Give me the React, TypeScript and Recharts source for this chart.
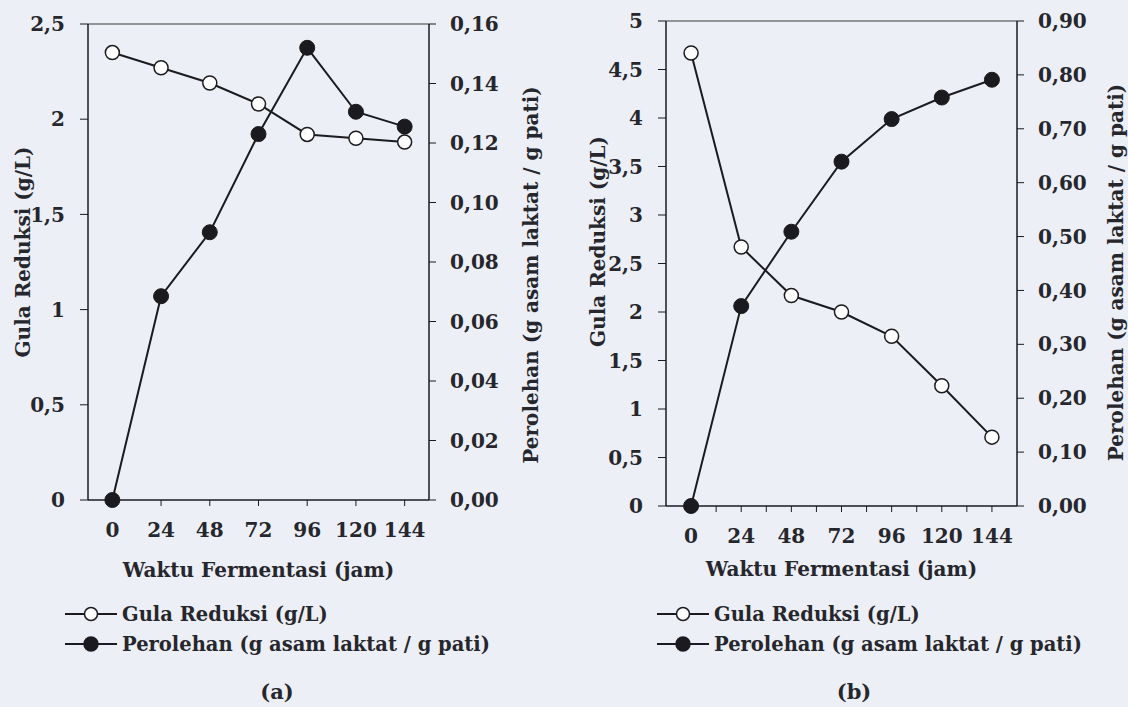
import { LineChart, Line, XAxis, YAxis, ReferenceLine, Legend } from 'recharts'

// waktu fermentasi (jam)
const HOURS = [0, 24, 48, 72, 96, 120, 144]

// (a) gula reduksi (g/L) dan perolehan (g asam laktat / g pati)
const GULA_A = [2.35, 2.27, 2.19, 2.08, 1.92, 1.9, 1.88]
const YIELD_A = [0, 0.0685, 0.09, 0.123, 0.152, 0.1305, 0.1255]

// (b)
const GULA_B = [4.67, 2.67, 2.17, 2.0, 1.75, 1.24, 0.71]
const YIELD_B = [0, 0.371, 0.509, 0.639, 0.718, 0.758, 0.791]

const HOUR_TICKS = [0, 24, 48, 72, 96, 120, 144]
const HOUR_TICKS_FINE = [0, 12, 24, 36, 48, 60, 72, 84, 96, 108, 120, 132, 144]
const GULA_TICKS_A = [0, 0.5, 1, 1.5, 2, 2.5]
const YIELD_TICKS_A = [0, 0.02, 0.04, 0.06, 0.08, 0.1, 0.12, 0.14, 0.16]
const GULA_TICKS_B = [0, 0.5, 1, 1.5, 2, 2.5, 3, 3.5, 4, 4.5, 5]
const YIELD_TICKS_B = [0, 0.1, 0.2, 0.3, 0.4, 0.5, 0.6, 0.7, 0.8, 0.9]

const GULA_NAME = 'Gula Reduksi (g/L)'
const YIELD_NAME = 'Perolehan (g asam laktat / g pati)'
const X_TITLE = 'Waktu Fermentasi (jam)'
const YIELD_TITLE = 'Perolehan (g  asam laktat / g pati)'

const INK = '#1b1b1f'
const TEXT = '#26262d'
const BG = '#eceff5'
const FONT = "'DejaVu Serif', serif"

const comma = (v: number) => String(v).replace('.', ',')
const comma2 = (v: number) => v.toFixed(2).replace('.', ',')

interface PanelProps {
  gula: number[]
  yieldVals: number[]
  gulaTicks: number[]
  yieldTicks: number[]
  xTicks: number[]
  caption: string
  top: number
  bottom: number
  leftW: number
  rightW: number
  leftTitleOff: number
  rightTitleOff: number
  leftTitleDy: number
  rightTitleDy: number
  xTitleOff: number
  legendLeft: number
  captionX: number
}

function LegendBox({ lineW }: { lineW: number }) {
  const items = [
    { label: GULA_NAME, filled: false },
    { label: YIELD_NAME, filled: true },
  ]
  return (
    <div style={{ fontFamily: FONT, fontWeight: 700, fontSize: 19.5, color: TEXT }}>
      {items.map(it => (
        <div key={it.label} style={{ display: 'flex', alignItems: 'center', height: 30 }}>
          <svg width={lineW} height={20} style={{ marginRight: 5 }}>
            <line x1={0} y1={10} x2={lineW} y2={10} stroke={INK} strokeWidth={2.2} />
            <circle cx={lineW / 2} cy={10} r={it.filled ? 7 : 6.5} fill={it.filled ? INK : '#fff'} stroke={INK} strokeWidth={1.5} />
          </svg>
          <span>{it.label}</span>
        </div>
      ))}
    </div>
  )
}

function Panel(p: PanelProps) {
  const data = HOURS.map((h, i) => ({ jam: h, gula: p.gula[i], perolehan: p.yieldVals[i] }))
  const gulaMax = p.gulaTicks[p.gulaTicks.length - 1]
  const yieldMax = p.yieldTicks[p.yieldTicks.length - 1]
  const tickStyle = { fontSize: 20, fill: TEXT, fontFamily: FONT, fontWeight: 700 }
  const titleStyle = { fontSize: 20, fill: TEXT, fontFamily: FONT, fontWeight: 700, textAnchor: 'middle' as const }

  return (
    <div style={{ position: 'relative', width: 564, height: 707 }}>
      <LineChart
        width={564}
        height={707}
        data={data}
        margin={{ top: p.top, right: 0, bottom: 707 - p.bottom - 90, left: 0 }}
      >
        <XAxis
          dataKey="jam"
          type="number"
          domain={[-12, 156]}
          ticks={p.xTicks}
          tickFormatter={(v: number) => (v % 24 === 0 ? String(v) : '')}
          height={90}
          tick={tickStyle}
          tickSize={6}
          tickMargin={17}
          axisLine={{ stroke: INK, strokeWidth: 1.5 }}
          tickLine={{ stroke: INK, strokeWidth: 1 }}
          label={{ value: X_TITLE, position: 'insideTop', offset: p.xTitleOff, style: titleStyle }}
        />
        <YAxis
          yAxisId="l"
          domain={[0, gulaMax]}
          ticks={p.gulaTicks}
          tickFormatter={comma}
          width={p.leftW}
          tick={tickStyle}
          tickSize={8}
          tickMargin={15}
          axisLine={{ stroke: INK, strokeWidth: 1.5 }}
          tickLine={{ stroke: INK, strokeWidth: 1 }}
          label={{ value: GULA_NAME, angle: -90, position: 'insideLeft', offset: p.leftTitleOff, dy: p.leftTitleDy, style: titleStyle }}
        />
        <YAxis
          yAxisId="r"
          orientation="right"
          domain={[0, yieldMax]}
          ticks={p.yieldTicks}
          tickFormatter={comma2}
          width={p.rightW}
          tick={tickStyle}
          tickSize={7}
          tickMargin={14}
          axisLine={{ stroke: INK, strokeWidth: 1.5 }}
          tickLine={{ stroke: INK, strokeWidth: 1 }}
          label={{ value: YIELD_TITLE, angle: -90, position: 'insideRight', offset: p.rightTitleOff, dy: p.rightTitleDy, style: titleStyle }}
        />
        <ReferenceLine yAxisId="l" y={gulaMax} stroke="#777" strokeWidth={1.5} />
        <Line
          yAxisId="r"
          dataKey="perolehan"
          name={YIELD_NAME}
          type="linear"
          stroke={INK}
          strokeWidth={2}
          dot={{ r: 7.5, fill: INK, stroke: INK, strokeWidth: 1 }}
          isAnimationActive={false}
        />
        <Line
          yAxisId="l"
          dataKey="gula"
          name={GULA_NAME}
          type="linear"
          stroke={INK}
          strokeWidth={2}
          dot={{ r: 7, fill: '#fff', stroke: INK, strokeWidth: 1.5 }}
          isAnimationActive={false}
        />
        <Legend
          layout="horizontal"
          verticalAlign="middle"
          align="center"
          wrapperStyle={{ left: p.legendLeft, top: 599, width: 'auto' }}
          content={() => <LegendBox lineW={52} />}
        />
      </LineChart>
      <div
        style={{
          position: 'absolute',
          left: p.captionX - 40,
          width: 80,
          top: 679,
          textAlign: 'center',
          fontFamily: FONT,
          fontWeight: 700,
          fontSize: 21,
          color: TEXT,
        }}
      >
        {p.caption}
      </div>
    </div>
  )
}

export default function App() {
  return (
    <div style={{ position: 'absolute', left: 0, top: 0, width: 1128, height: 707, background: BG, display: 'flex', overflow: 'hidden' }}>
      <Panel
        gula={GULA_A}
        yieldVals={YIELD_A}
        gulaTicks={GULA_TICKS_A}
        yieldTicks={YIELD_TICKS_A}
        xTicks={HOUR_TICKS}
        caption="(a)"
        top={24}
        bottom={500}
        leftW={88}
        rightW={135}
        leftTitleOff={23}
        rightTitleOff={33}
        leftTitleDy={-10}
        rightTitleDy={13}
        xTitleOff={63}
        legendLeft={65}
        captionX={277}
      />
      <Panel
        gula={GULA_B}
        yieldVals={YIELD_B}
        gulaTicks={GULA_TICKS_B}
        yieldTicks={YIELD_TICKS_B}
        xTicks={HOUR_TICKS_FINE}
        caption="(b)"
        top={21}
        bottom={506}
        leftW={102}
        rightW={111}
        leftTitleOff={34}
        rightTitleOff={12}
        leftTitleDy={-22}
        rightTitleDy={9}
        xTitleOff={56}
        legendLeft={93}
        captionX={290}
      />
    </div>
  )
}
